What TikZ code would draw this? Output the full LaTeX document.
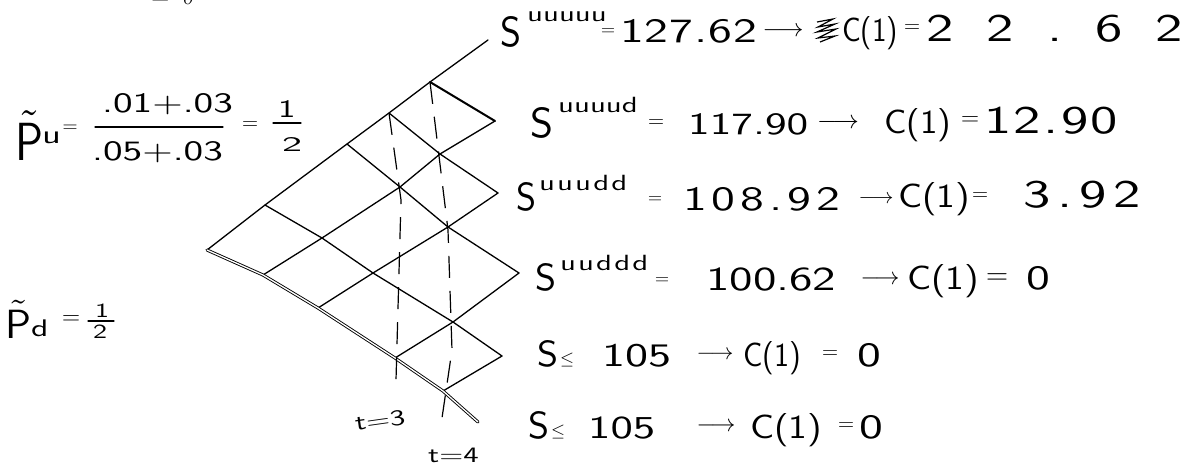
\documentclass[tikz,border=0pt]{standalone}
\usepackage{fontspec}
\usepackage{graphicx}
\usepackage{amsmath}
\newfontfamily\hand{lmsans10-regular.otf}[FakeStretch=1.4]
\newcommand{\spread}[2]{\makebox[#1pt][s]{#2}}
\newcommand{\fitw}[2]{\resizebox{#1pt}{!}{#2}}
\newcommand{\fitc}[1]{\resizebox{#1pt}{25pt}{C(1)}}
\tikzset{
  edge/.style={line width=1.3pt, line cap=round, line join=round},
  bound/.style={double, double distance=1.3pt, line width=0.9pt, line cap=round},
  tline/.style={line width=1.2pt, dash pattern=on 22pt off 13pt},
  lbl/.style={inner sep=0pt, anchor=base west, font=\hand\fontsize{34}{38}\selectfont},
  big/.style={inner sep=0pt, anchor=base west, font=\hand\fontsize{39}{42}\selectfont},
  sup/.style={inner sep=0pt, anchor=base west, font=\hand\fontsize{22}{24}\selectfont},
  sym/.style={inner sep=0pt, anchor=center, font=\hand\fontsize{32}{38}\selectfont},
  tlab/.style={inner sep=0pt, anchor=base west, font=\hand\fontsize{22}{24}\selectfont},
}
\begin{document}
\begin{tikzpicture}[x=1pt,y=-1pt]
\useasboundingbox (0,0) rectangle (1191,466);
% lattice nodes
\coordinate (n00) at (207,250);
\coordinate (n10) at (265,205); \coordinate (n11) at (263,275);
\coordinate (n20) at (347,144); \coordinate (n21) at (322,238); \coordinate (n22) at (318,308);
\coordinate (n30) at (389,113); \coordinate (n31) at (400,187); \coordinate (n32) at (373,273); \coordinate (n33) at (395,358);
\coordinate (n40) at (430,82); \coordinate (n41) at (440,154); \coordinate (n42) at (448,227); \coordinate (n43) at (453,322); \coordinate (n44) at (443,391);
\coordinate (n50) at (488,40); \coordinate (n51) at (495,121); \coordinate (n52) at (498,193); \coordinate (n53) at (519,273); \coordinate (n54) at (502,356); \coordinate (n55) at (478,422);
% upper boundary and up-lines
\draw[edge] (n00) -- (n10) -- (n20) -- (n30) -- (n40) -- (n50);
\draw[edge] (n11) -- (n21) -- (n31) -- (n41) -- (n51);
\draw[edge] (n22) -- (n32) -- (n42) -- (n52);
\draw[edge] (n33) -- (n43) -- (n53);
\draw[edge] (n44) -- (n54);
% lower boundary (double stroke) and down-lines
\draw[bound] (n00) -- (n11) -- (n22) -- (n33) -- (n44) -- (n55);
\draw[edge] (n10) -- (n21) -- (n32) -- (n43) -- (n54);
\draw[edge] (n20) -- (n31) -- (n42) -- (n53);
\draw[edge] (n30) -- (n41) -- (n52);
\draw[edge, line width=2pt] (n40) -- (n51);
% time slices
\coordinate (t3m) at (401,200); \coordinate (t3b) at (396,380);
\coordinate (t4m) at (448,230); \coordinate (t4n) at (452,350); \coordinate (t4b) at (442,418);
\draw[tline] (n30) -- (t3m) -- (t3b);
\draw[tline] (n40) -- (t4m) -- (t4n) -- (t4b);
\node[tlab, rotate=8] (t3) at (356,431) {t=3};
\node[tlab] (t4) at (428,462) {t=4};
% top cropped fragment
\begin{scope}
\clip (0,0) rectangle (1191,466);
\node[inner sep=0pt, anchor=base, font=\hand\fontsize{30}{32}\selectfont] (topfrag) at (173,4) {$=\;\delta$};
\end{scope}
% risk-neutral probabilities
\node[inner sep=0pt, anchor=north west] (pu) at (15,110) {\resizebox{28pt}{50pt}{$\tilde{\mathsf{P}}$}};
\node[sup, font=\hand\fontsize{26}{30}\selectfont] (pus) at (42,143) {u};
\node[sym] (pue) at (70,129) {\resizebox{15pt}{!}{$=$}};
\node[lbl, font=\hand\fontsize{28}{32}\selectfont] (pun) at (102,112) {\spread{125}{.\hfill0\hfill1\hfill+\hfill.\hfill0\hfill3}};
\coordinate (fb1) at (95,127); \coordinate (fb2) at (223,127);
\draw[edge] (fb1) -- (fb2);
\node[lbl, font=\hand\fontsize{28}{32}\selectfont] (pud) at (92,160) {\spread{128}{.\hfill0\hfill5\hfill+\hfill.\hfill0\hfill3}};
\node[sym] (pue2) at (250,126) {\resizebox{16pt}{!}{$=$}};
\node[lbl, font=\hand\fontsize{25}{28}\selectfont] (pu1) at (278,117) {1};
\coordinate (hb1) at (273,123); \coordinate (hb2) at (301,123);
\draw[edge] (hb1) -- (hb2);
\node[lbl] (pu2) at (282,151) {\resizebox{20pt}{14pt}{2}};
\node[inner sep=0pt, anchor=north west] (pd) at (5,300) {\resizebox{26pt}{38pt}{$\tilde{\mathsf{P}}$}};
\node[sup, font=\hand\fontsize{24}{26}\selectfont] (pds) at (31,336) {d};
\node[sym] (pde) at (71,320) {\resizebox{18pt}{!}{$=$}};
\node[lbl, font=\hand\fontsize{20}{22}\selectfont] (pd1) at (95,317) {1};
\coordinate (hd1) at (88,321); \coordinate (hd2) at (114,321);
\draw[edge] (hd1) -- (hd2);
\node[lbl, font=\hand\fontsize{20}{22}\selectfont] (pd2) at (93,338) {2};
% row 1
\node[lbl] (s1) at (500,46) {\resizebox{21pt}{30pt}{S}};
\node[sup] (u1) at (527,21) {\spread{56}{u\hfill u\hfill u\hfill u\hfill u}};
\node[sym] (e1) at (608,32) {\resizebox{14pt}{!}{$=$}};
\node[lbl] (v1) at (620,42) {\spread{137}{1\hfill2\hfill7\hfill.\hfill6\hfill2}};
\node[sym] (a1) at (783,32) {\resizebox{41pt}{!}{$\longrightarrow$}};
\draw[line width=1.2pt] (817,22) -- (833,19) -- (818,27) -- (835,24) -- (817,32) -- (836,29) -- (818,38) -- (835,36) -- (820,42);
\node[lbl] (c1) at (842,41) {\fitc{56}};
\node[sym] (f1) at (912,29) {\resizebox{16pt}{!}{$=$}};
\node[big] (r1) at (926,41) {\spread{257}{2\hfill2\hfill.\hfill6\hfill2}};
% row 2
\node[lbl] (s2) at (530,137) {\resizebox{23pt}{30pt}{S}};
\node[sup] (u2) at (558,112) {\spread{72}{u\hfill u\hfill u\hfill u\hfill d}};
\node[sym] (e2) at (656,124) {\resizebox{16pt}{!}{$=$}};
\node[lbl] (v2) at (688,134) {\fitw{120}{117.90}};
\node[sym] (a2) at (838,124) {\resizebox{42pt}{!}{$\longrightarrow$}};
\node[lbl] (c2) at (884,133) {\fitc{67}};
\node[sym] (f2) at (970,121) {\resizebox{18pt}{!}{$=$}};
\node[big] (r2) at (984,133) {\spread{134}{1\hfill2\hfill.\hfill9\hfill0}};
% row 3
\node[lbl] (s3) at (516,210) {\resizebox{20pt}{28pt}{S}};
\node[sup] (u3) at (539,190) {\spread{88}{u\hfill u\hfill u\hfill d\hfill d}};
\node[sym] (e3) at (655,200) {\resizebox{14pt}{!}{$=$}};
\node[lbl] (v3) at (683,210) {\spread{157}{1\hfill0\hfill8\hfill.\hfill9\hfill2}};
\node[sym] (a3) at (876,200) {\resizebox{35pt}{!}{$\longrightarrow$}};
\node[lbl] (c3) at (898,207) {\fitc{72}};
\node[sym] (f3) at (980,197) {\resizebox{16pt}{!}{$=$}};
\node[big] (r3) at (1023,207) {\spread{118}{3\hfill.\hfill9\hfill2}};
% row 4
\node[lbl] (s4) at (535,290) {\resizebox{21pt}{27pt}{S}};
\node[sup] (u4) at (560,270) {\spread{88}{u\hfill u\hfill d\hfill d\hfill d}};
\node[sym] (e4) at (662,281) {\resizebox{14pt}{!}{$=$}};
\node[lbl] (v4) at (706,290) {\fitw{130}{100.62}};
\node[sym] (a4) at (880,280) {\resizebox{39pt}{!}{$\longrightarrow$}};
\node[lbl] (c4) at (907,289) {\fitc{72}};
\node[sym] (f4) at (997,279) {\resizebox{22pt}{!}{$=$}};
\node[lbl] (r4) at (1026,289) {0};
% row 5
\node[lbl] (s5) at (537,366) {\resizebox{21pt}{26pt}{S}};
\node[sym] (l5) at (567,360) {\resizebox{14pt}{!}{$\leq$}};
\node[lbl] (v5) at (602,366) {\fitw{69}{105}};
\node[sym] (a5) at (715,355) {\resizebox{37pt}{!}{$\longrightarrow$}};
\node[lbl] (c5) at (743,366) {\fitc{58}};
\node[sym] (f5) at (830,355) {\resizebox{16pt}{!}{$=$}};
\node[lbl] (r5) at (857,366) {0};
% row 6
\node[lbl] (s6) at (528,438) {\resizebox{21pt}{27pt}{S}};
\node[sym] (l6) at (558,432) {\resizebox{14pt}{!}{$\leq$}};
\node[lbl] (v6) at (588,438) {\fitw{67}{105}};
\node[sym] (a6) at (716,427) {\resizebox{39pt}{!}{$\longrightarrow$}};
\node[lbl] (c6) at (750,438) {\fitc{72}};
\node[sym] (f6) at (846,427) {\resizebox{16pt}{!}{$=$}};
\node[lbl] (r6) at (859,438) {0};
\end{tikzpicture}
\end{document}
